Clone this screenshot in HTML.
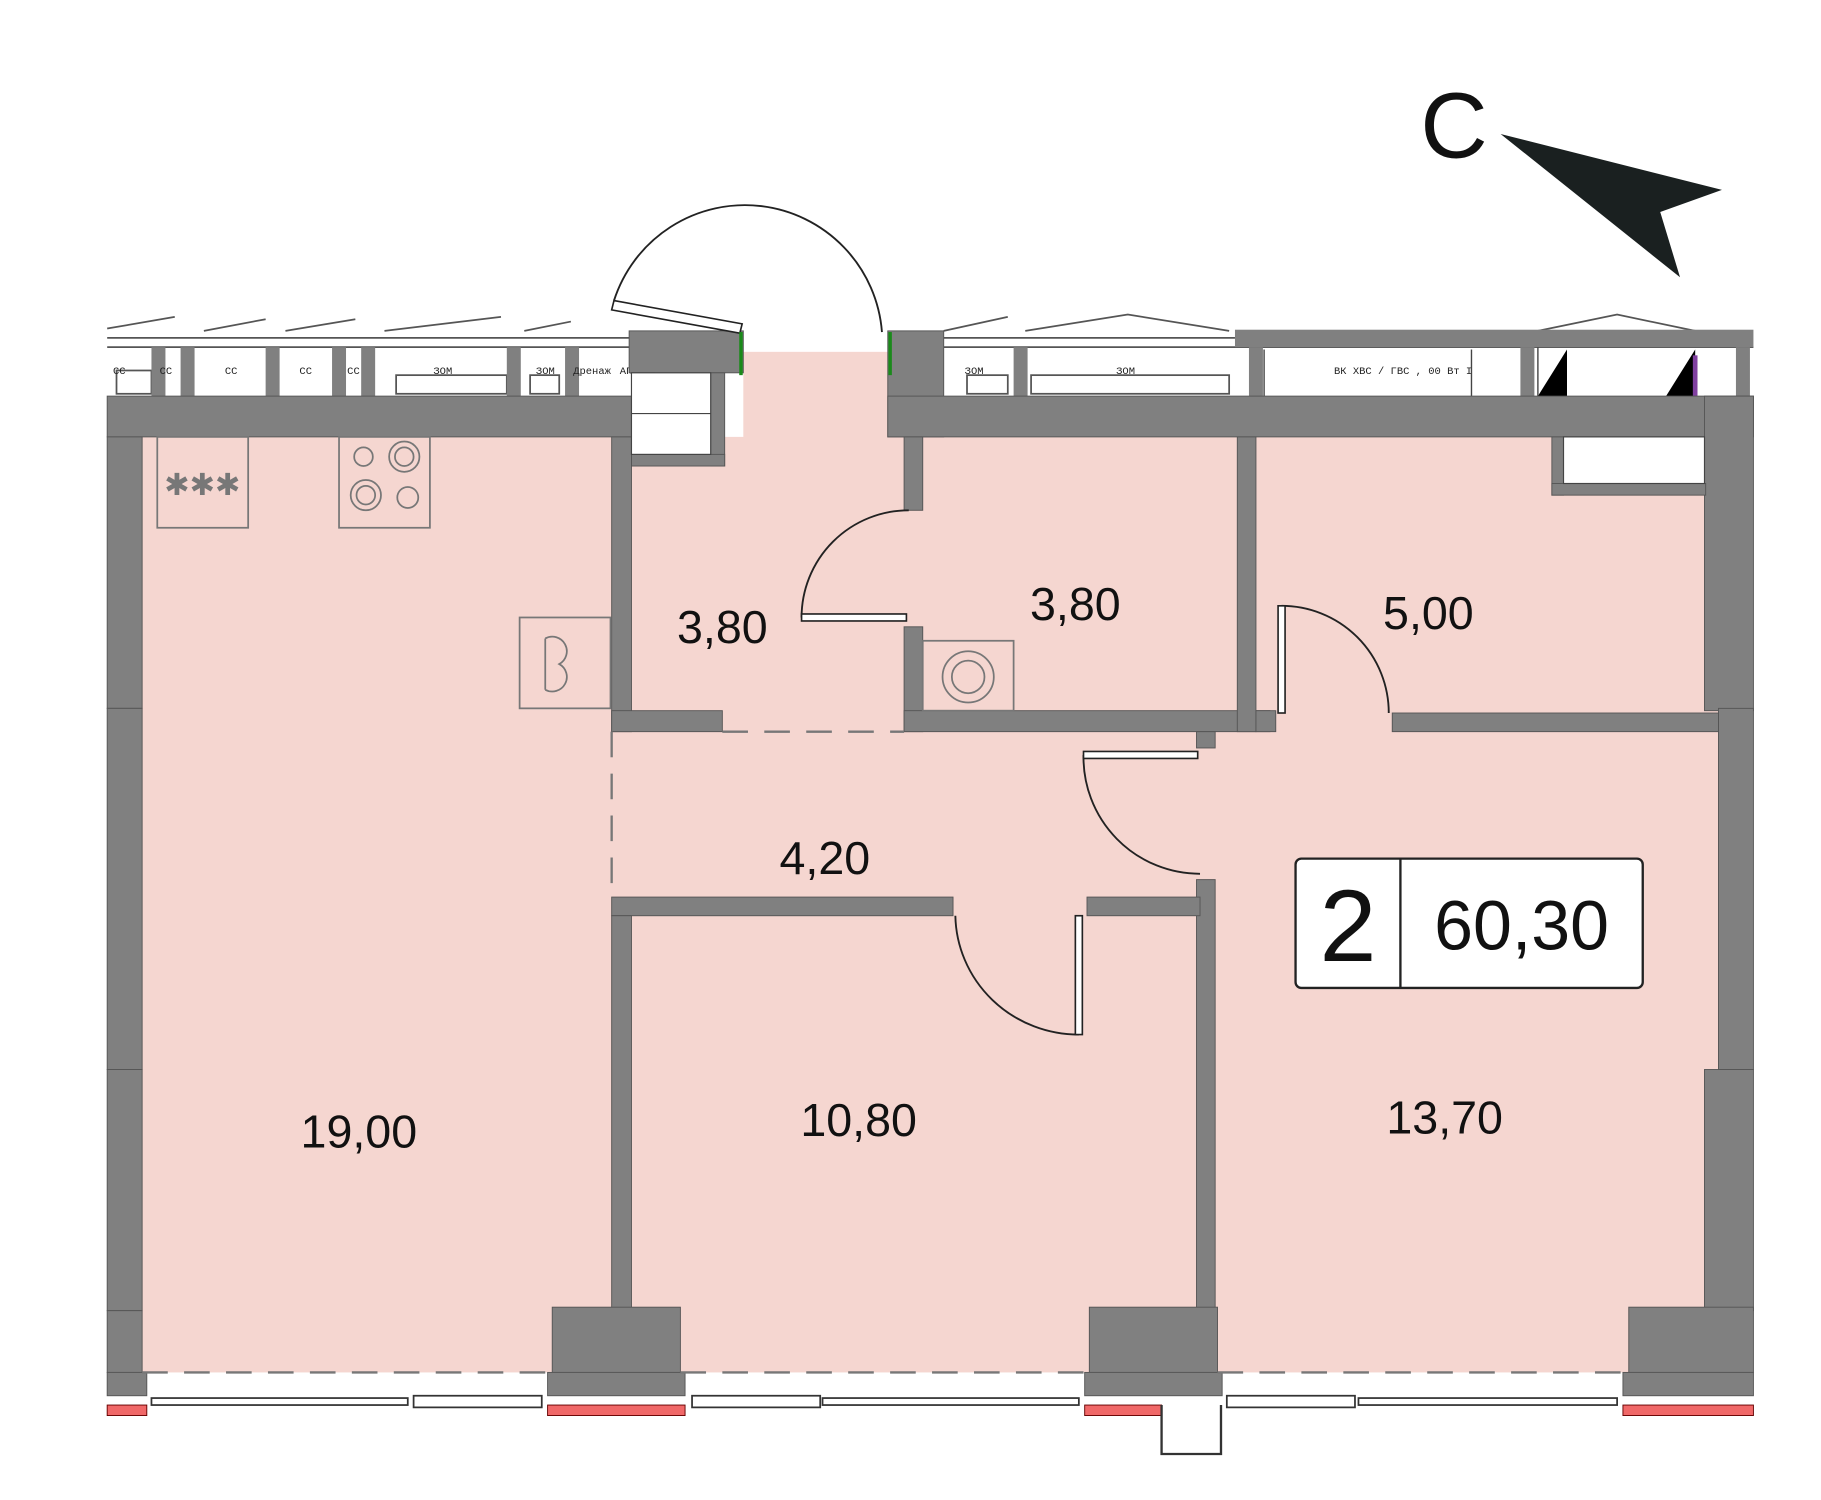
<!DOCTYPE html>
<html><head><meta charset="utf-8"><style>html,body{margin:0;padding:0;background:#fff}svg{display:block}</style></head>
<body>
<svg width="1821" height="1500" viewBox="0 0 1563 1287.5" preserveAspectRatio="none" xmlns="http://www.w3.org/2000/svg" font-family="Liberation Sans, DejaVu Sans, sans-serif">
<rect width="1563" height="1288" fill="#fff"/>
<!-- pink floor -->
<g fill="#f5d6d0">
<rect x="122" y="375" width="1342" height="803"/>
<rect x="1460" y="600" width="18" height="330"/>
<rect x="638" y="302" width="124" height="75"/>
</g>
<!-- top band (balcony/windows strip) -->
<g stroke="#555" stroke-width="1.5" fill="none">
<line x1="92" y1="298" x2="540" y2="298"/><line x1="92" y1="290" x2="540" y2="290"/>
<line x1="810" y1="298" x2="1505" y2="298"/><line x1="810" y1="290" x2="1060" y2="290"/>
<polyline points="92,282 150,272"/><polyline points="175,284 228,274"/><polyline points="245,284 305,274"/><polyline points="330,284 430,272"/><polyline points="450,284 490,276"/>
<polyline points="810,284 865,272"/><polyline points="880,284 968,270 1055,284"/><polyline points="1320,284 1388,270 1455,284"/>
<rect x="100" y="318" width="30" height="20"/><rect x="340" y="322" width="95" height="16"/><rect x="455" y="322" width="25" height="16"/>
<rect x="885" y="322" width="170" height="16"/><rect x="830" y="322" width="35" height="16"/>
</g>
<g fill="#808080">
<rect x="1060" y="283" width="445" height="15"/>
<rect x="130" y="298" width="12" height="42"/><rect x="155" y="298" width="12" height="42"/><rect x="228" y="298" width="12" height="42"/><rect x="285" y="298" width="12" height="42"/><rect x="310" y="298" width="12" height="42"/>
<rect x="435" y="298" width="12" height="42"/><rect x="485" y="298" width="12" height="42"/><rect x="870" y="298" width="12" height="42"/><rect x="1072" y="298" width="12" height="42"/><rect x="1305" y="298" width="12" height="42"/><rect x="1490" y="298" width="12" height="42"/>
</g>
<polygon points="1320,340 1345,300 1345,340" fill="#000"/><polygon points="1430,340 1455,300 1455,340" fill="#000"/>
<rect x="1453" y="305" width="4" height="35" fill="#8040a0"/>
<g font-size="9" fill="#222" font-family="Liberation Mono, monospace">
<text x="97" y="321">CC</text><text x="137" y="321">CC</text><text x="193" y="321">CC</text><text x="257" y="321">CC</text><text x="298" y="321">CC</text><text x="372" y="321">ЗОМ</text><text x="460" y="321">ЗОМ</text><text x="492" y="321">Дренаж</text><text x="532" y="321">АПТ</text>
<text x="828" y="321">ЗОМ</text><text x="958" y="321">ЗОМ</text><text x="1145" y="321">ВК ХВС / ГВС , 00 Вт I</text><text x="1425" y="398">ВК</text>
</g>
<g stroke="#444" stroke-width="1.2" fill="none"><line x1="1085" y1="300" x2="1085" y2="340"/><line x1="1263" y1="300" x2="1263" y2="340"/><line x1="1320" y1="298" x2="1320" y2="340"/></g>
<!-- walls -->
<g fill="#808080" stroke="#555" stroke-width="0.8">
<rect x="92" y="340" width="450" height="35"/>
<rect x="540" y="284" width="98" height="36"/>
<rect x="542" y="320" width="20" height="55"/>
<rect x="610" y="320" width="12" height="80"/>
<rect x="542" y="390" width="80" height="10"/>
<rect x="762" y="284" width="48" height="91"/>
<rect x="762" y="340" width="743" height="35"/>
<rect x="1463" y="340" width="42" height="270"/>
<rect x="1475" y="608" width="30" height="310"/>
<rect x="1463" y="918" width="42" height="207"/>
<rect x="92" y="375" width="30" height="233"/>
<rect x="92" y="608" width="30" height="310"/>
<rect x="92" y="918" width="30" height="207"/>
<rect x="92" y="1125" width="30" height="53"/>
<rect x="525" y="375" width="17" height="253"/>
<rect x="525" y="610" width="95" height="18"/>
<rect x="776" y="375" width="16" height="63"/>
<rect x="776" y="538" width="16" height="90"/>
<rect x="776" y="610" width="314" height="18"/>
<rect x="1062" y="375" width="16" height="253"/>
<rect x="1078" y="610" width="17" height="18"/>
<rect x="1195" y="612" width="280" height="16"/>
<rect x="1027" y="628" width="16" height="14"/>
<rect x="1027" y="755" width="16" height="370"/>
<rect x="525" y="770" width="293" height="16"/>
<rect x="933" y="770" width="97" height="16"/>
<rect x="525" y="786" width="17" height="339"/>
<rect x="1332" y="375" width="10" height="50"/><rect x="1332" y="415" width="132" height="10"/>
<rect x="474" y="1122" width="110" height="56"/>
<rect x="935" y="1122" width="110" height="56"/>
<rect x="1398" y="1122" width="107" height="56"/>
<rect x="470" y="1178" width="118" height="20"/>
<rect x="931" y="1178" width="118" height="20"/>
<rect x="1393" y="1178" width="112" height="20"/>
<rect x="92" y="1178" width="34" height="20"/>
</g>
<rect x="1342" y="375" width="121" height="40" fill="#fff" stroke="#444"/>
<rect x="542" y="320" width="68" height="70" fill="#fff" stroke="#444"/>
<line x1="542" y1="355" x2="610" y2="355" stroke="#444"/>
<!-- red strips -->
<g fill="#f06868" stroke="#600" stroke-width="0.8">
<rect x="92" y="1206" width="34" height="9"/><rect x="470" y="1206" width="118" height="9"/><rect x="931" y="1206" width="66" height="9"/><rect x="1393" y="1206" width="112" height="9"/>
</g>
<!-- bottom windows -->
<g stroke="#333" stroke-width="1.5" fill="#fff">
<rect x="130" y="1200" width="220" height="6"/><rect x="355" y="1198" width="110" height="10"/>
<rect x="594" y="1198" width="110" height="10"/><rect x="706" y="1200" width="220" height="6"/>
<rect x="1053" y="1198" width="110" height="10"/><rect x="1166" y="1200" width="222" height="6"/>
</g>
<polyline points="997,1206 997,1248 1048,1248 1048,1206" stroke="#333" stroke-width="2" fill="none"/>
<!-- dashed lines -->
<g stroke="#777" stroke-width="2" stroke-dasharray="22,14" fill="none">
<line x1="122" y1="1178" x2="474" y2="1178"/><line x1="584" y1="1178" x2="935" y2="1178"/><line x1="1045" y1="1178" x2="1398" y2="1178"/>
<line x1="620" y1="628" x2="776" y2="628"/><line x1="525" y1="628" x2="525" y2="770"/>
</g>
<!-- doors -->
<g stroke="#222" stroke-width="1.6" fill="none">
<path d="M527,258 A118,118 0 0 1 757,285"/>
<path d="M688,530 A92,92 0 0 1 780,438"/>
<path d="M1100,520 A92,92 0 0 1 1192,612"/>
<path d="M930,648 A100,100 0 0 0 1030,750"/>
<path d="M820,786 A106,104 0 0 0 926,888"/>
</g>
<g stroke="#222" stroke-width="1.4" fill="#fff">
<polygon points="527,258 637,278 635,286 525,266"/>
<rect x="688" y="527" width="90" height="6"/>
<rect x="1097" y="520" width="6" height="92"/>
<rect x="930" y="645" width="98" height="6"/>
<rect x="923" y="786" width="6" height="102"/>
</g>
<g stroke="#1a8a1a" stroke-width="3"><line x1="636" y1="285" x2="636" y2="322"/><line x1="764" y1="285" x2="764" y2="322"/></g>
<!-- fixtures -->
<g stroke="#777" stroke-width="1.5" fill="none">
<rect x="135" y="375" width="78" height="78"/>
<rect x="291" y="375" width="78" height="78"/>
<circle cx="312" cy="392" r="8"/><circle cx="347" cy="392" r="13"/><circle cx="347" cy="392" r="8"/><circle cx="314" cy="425" r="13"/><circle cx="314" cy="425" r="8"/><circle cx="350" cy="427" r="9"/>
<rect x="446" y="530" width="78" height="78"/>
<path d="M468,548 L468,592 M468,548 A12,12 0 0 1 480,570 A12,12 0 0 1 468,592"/>
<rect x="792" y="550" width="78" height="60"/>
<circle cx="831" cy="581" r="22"/><circle cx="831" cy="581" r="14"/>
</g>
<text x="141" y="425" font-size="26" fill="#777">✱✱✱</text>
<!-- room labels -->
<g font-size="40" fill="#111" text-anchor="middle">
<text x="620" y="552">3,80</text>
<text x="923" y="532">3,80</text>
<text x="1226" y="540">5,00</text>
<text x="708" y="750">4,20</text>
<text x="308" y="985">19,00</text>
<text x="737" y="975">10,80</text>
<text x="1240" y="973">13,70</text>
</g>
<!-- area box -->
<rect x="1112" y="737" width="298" height="111" rx="5" fill="#fff" stroke="#222" stroke-width="2"/>
<line x1="1202" y1="737" x2="1202" y2="848" stroke="#222" stroke-width="2"/>
<text x="1157" y="825" font-size="88" text-anchor="middle" fill="#111">2</text>
<text x="1306" y="815" font-size="60" text-anchor="middle" fill="#111">60,30</text>
<!-- compass -->
<text x="1248" y="135" font-size="80" text-anchor="middle" fill="#111">C</text>
<polygon points="1288,115 1478,163 1425,182 1442,238" fill="#1a2020"/>
</svg>
</body></html>
